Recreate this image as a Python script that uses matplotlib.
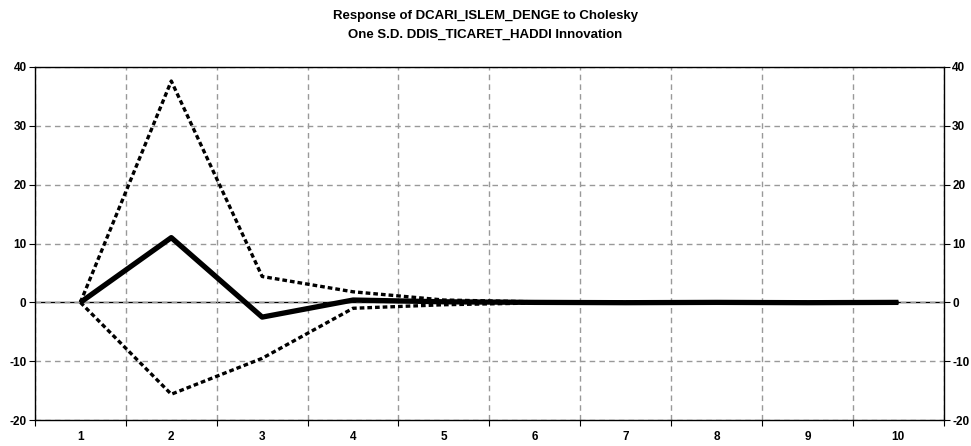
import matplotlib
matplotlib.use("Agg")
import matplotlib.pyplot as plt

plt.rcParams['font.family'] = ['Liberation Sans Narrow', 'Liberation Sans', 'DejaVu Sans']
plt.rcParams['font.weight'] = 'bold'
plt.rcParams['axes.unicode_minus'] = False

periods = [1, 2, 3, 4, 5, 6, 7, 8, 9, 10]
response = [0.0, 11.0, -2.5, 0.4, 0.1, 0.0, -0.05, 0.0, -0.05, 0.0]
upper = [0.0, 37.6, 4.4, 1.8, 0.4, 0.1, 0.05, 0.05, 0.02, 0.02]
lower = [0.0, -15.6, -9.5, -1.0, -0.4, -0.1, -0.1, -0.05, -0.05, -0.03]

fig = plt.figure(figsize=(9.71, 4.46), dpi=100)
ax = fig.add_axes([0.036, 0.058, 0.936, 0.792])

ax.plot(periods, upper, color='black', linestyle=(0, (1.4, 0.9)), linewidth=2.4)
ax.plot(periods, lower, color='black', linestyle=(0, (1.4, 0.9)), linewidth=2.4)
ax.plot(periods, response, color='black', linewidth=3.8, solid_capstyle='butt')
ax.axhline(0, color='black', linewidth=1.0, zorder=1)

ax.set_xlim(0.5, 10.5)
ax.set_ylim(-20, 40)
ax.set_yticks(range(-20, 41, 10))

# gridlines sit between the periods
ax.set_xticks([p + 0.5 for p in periods[:-1]] + [0.5, 10.5], minor=False)
ax.set_xticklabels([])
ax.set_xticks(periods, minor=True)
ax.set_xticklabels([str(p) for p in periods], minor=True)
ax.tick_params(axis='x', which='minor', length=0, pad=8, labelsize=8.5)
ax.tick_params(axis='x', which='major', length=4, direction='out')
ax.tick_params(axis='y', length=4, direction='out', labelsize=8.5, pad=2, right=True, labelright=True)

ax.grid(True, which='major', color='#999999', linestyle=(0, (4, 3)), linewidth=1.0)
for s in ax.spines.values():
    s.set_linewidth(1.0)

fig.text(0.5, 0.965, "Response of DCARI_ISLEM_DENGE to Cholesky", ha='center', va='center', fontsize=9.5, fontweight='bold')
fig.text(0.5, 0.922, "One S.D. DDIS_TICARET_HADDI Innovation", ha='center', va='center', fontsize=9.5, fontweight='bold')

fig.savefig('out.png', dpi=100)
